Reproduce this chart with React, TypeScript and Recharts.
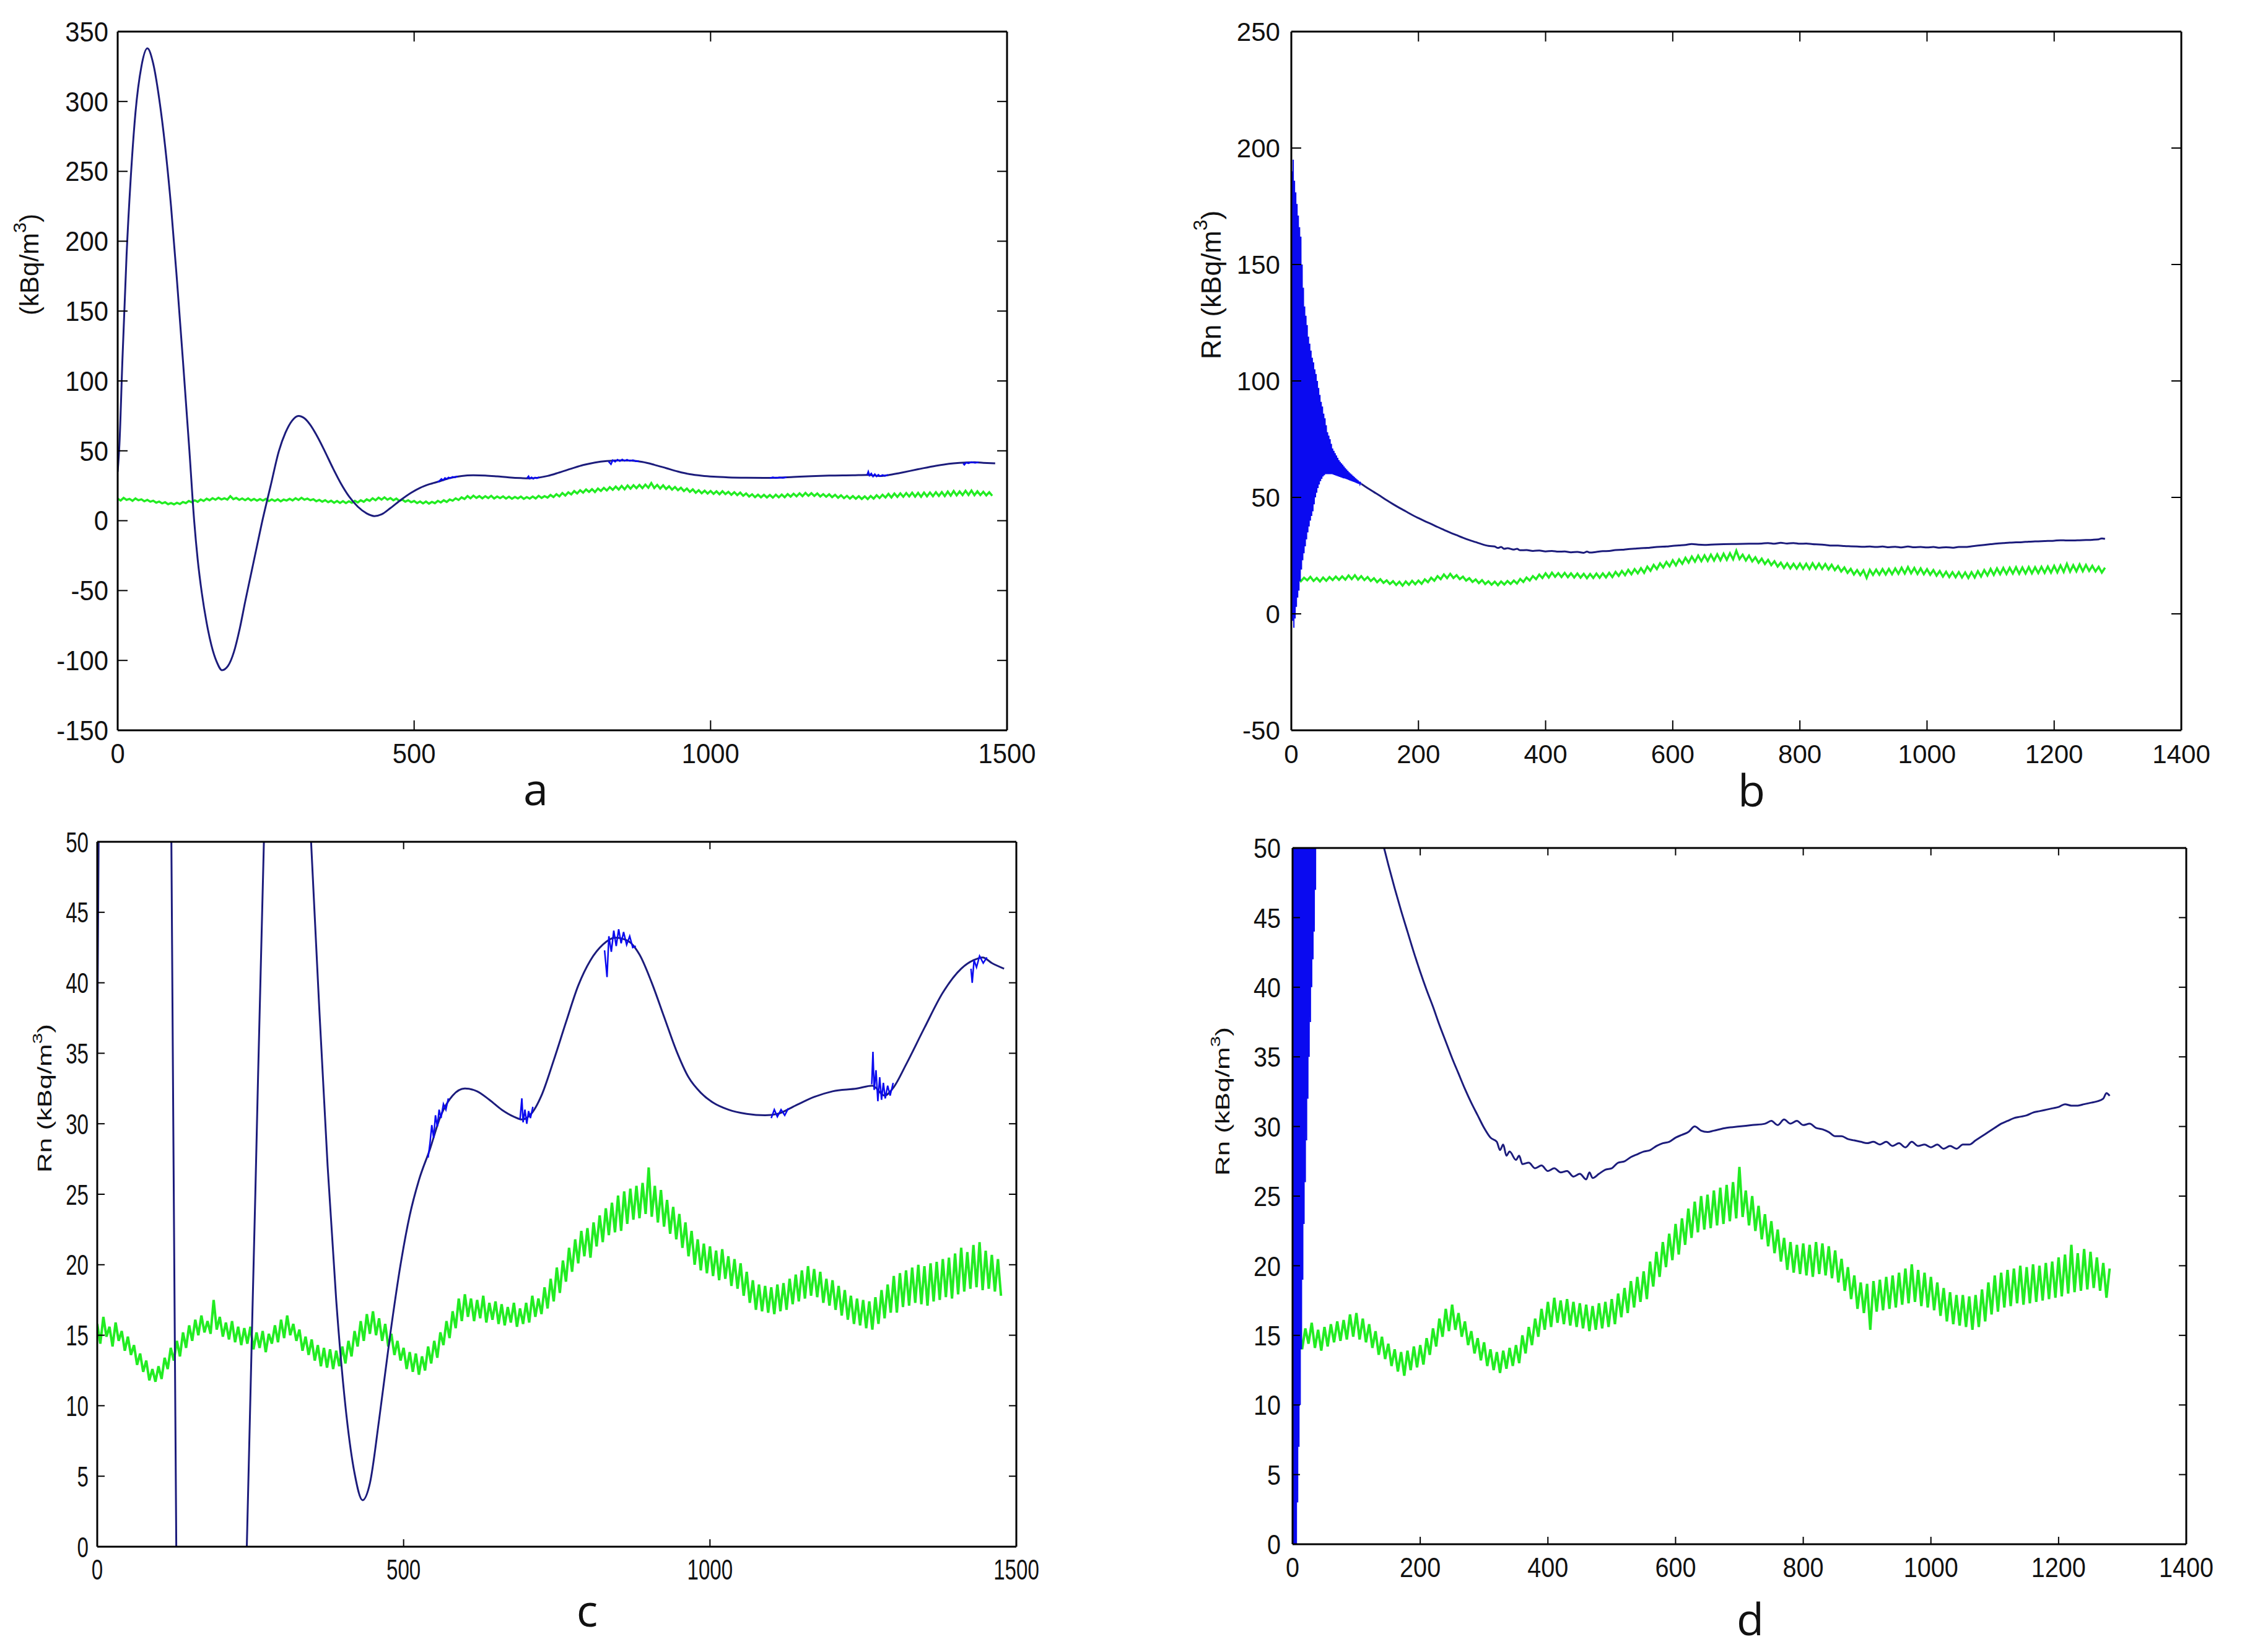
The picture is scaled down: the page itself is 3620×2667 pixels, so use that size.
import React from 'react';
import { LineChart, Line, XAxis, YAxis } from 'recharts';

// ---------------- DATA ----------------
// Panel a / c : blue series (smooth part) [time, Rn]
const BLUE_A: [number, number][] = [
  [0, 35], [3, 55], [8, 115], [15, 190], [22, 245], [30, 292], [40, 325], [50, 338], [60, 327], [70, 302],
  [80, 268], [90, 225], [100, 172], [110, 115], [121, 50], [129, 0], [135, -28], [142, -52], [150, -73], [158, -89],
  [167, -101], [176, -107], [186, -104], [196, -94], [206, -77], [215, -58], [224, -40], [234, -20], [243, -2], [258, 25],
  [272, 50], [283, 63], [294, 71.5], [305, 75], [315, 73.3], [325, 68.5], [337, 60], [349, 50], [362, 38.5], [376, 27],
  [390, 17.5], [405, 10], [420, 5.2], [433, 3.3], [445, 4.5], [460, 9], [478, 15], [495, 20], [510, 23.5], [525, 26],
  [543, 28.2], [560, 30.5],
  [580, 32.0], [600, 32.5], [620, 32.3], [640, 31.7], [660, 31.0], [680, 30.5], [693, 30.3], [710, 30.8], [725, 32], [745, 34.5],
  [765, 37.2], [785, 39.8], [805, 41.6], [825, 42.7], [845, 43.2], [865, 43.0], [885, 42.0], [905, 40.0], [925, 37.6], [945, 35.2],
  [965, 33.3], [985, 32.2], [1005, 31.5], [1030, 31.0], [1060, 30.7], [1090, 30.6], [1110, 30.7], [1140, 31.3], [1170, 31.9], [1200, 32.3],
  [1240, 32.5], [1265, 32.7], [1285, 32.0], [1300, 32.6], [1320, 34.2], [1350, 36.8], [1380, 39.3], [1410, 41.0], [1430, 41.6], [1445, 41.8],
  [1460, 41.4], [1480, 41.0],
];
// Panel a / c : blue jitter bursts (null separates bursts)
const BLUE_A_JITTER: [number, number | null][] = [
  [540, 27.6], [543, 28.6], [546, 29.9], [549, 29.0], [552, 30.6], [555, 29.8], [558, 31.0], [561, 30.4], [565, 31.4], [569, 31.0], [573, 31.8], [574, null],
  [690, 30.3], [693, 31.8], [695, 30.1], [698, 31.0], [701, 30.0], [704, 30.9], [707, 30.4], [711, 31.2], [712, null],
  [828, 42.3], [832, 40.4], [835, 43.3], [839, 42.2], [843, 43.7], [847, 42.6], [851, 43.8], [855, 42.8], [859, 43.6], [864, 42.7], [869, 43.3], [874, 42.5], [879, 42.6], [880, null],
  [1100, 30.4], [1105, 31.0], [1110, 30.5], [1116, 31.0], [1122, 30.6], [1128, 31.1], [1129, null],
  [1264, 32.8], [1266, 35.1], [1268, 32.4], [1271, 33.8], [1274, 31.6], [1277, 33.3], [1280, 31.7], [1283, 32.9], [1286, 31.8], [1290, 32.7], [1294, 32.0], [1299, 32.9], [1300, null],
  [1426, 41.0], [1428, 40.0], [1431, 41.6], [1435, 41.1], [1440, 41.9], [1446, 41.4], [1452, 41.8],
];
// Panel a / c : green series, one value every 5 time units from 0
const GREEN_A_STEP = 5;
const GREEN_A: number[] = [
  15.8, 14.4, 16.3, 14.9, 15.6, 14.2, 15.9, 14.6, 15.3, 13.9,
  14.9, 13.6, 14.3, 12.9, 13.7, 12.4, 13.2, 11.8, 12.6, 11.7,
  12.8, 11.9, 13.4, 12.6, 14.1, 13.2, 14.6, 13.5, 15.2, 14.1,
  15.7, 14.6, 16.1, 15.0, 16.4, 15.2, 16.0, 15.1, 17.5, 15.4,
  16.3, 14.9, 15.9, 14.7, 16.0, 14.5, 15.6, 14.3, 15.5, 14.4,
  15.6, 14.0, 15.2, 14.1, 15.3, 13.8, 15.1, 14.4, 15.7, 14.5,
  16.1, 14.8, 16.4, 15.0, 15.8, 14.6, 15.4, 13.9, 14.9, 13.6,
  14.7, 13.2, 14.3, 12.8, 14.1, 12.7, 14.0, 12.6, 13.9, 12.8,
  14.2, 13.0, 14.6, 13.5, 15.3, 14.2, 16.0, 14.6, 16.5, 15.1,
  16.7, 15.0, 16.2, 14.6, 15.8, 14.2, 15.1, 13.6, 14.6, 13.2,
  14.1, 12.6, 13.8, 12.4, 13.7, 12.2, 13.5, 12.5, 14.2, 13.0,
  14.6, 13.4, 15.2, 14.3, 16.0, 14.8, 16.7, 15.5, 17.6, 16.0,
  17.9, 16.3, 17.6, 16.0, 17.5, 16.2, 17.8, 15.9, 17.3, 16.1,
  17.4, 15.8, 17.2, 15.7, 17.0, 15.9, 17.3, 15.6, 16.9, 15.8,
  17.3, 15.9, 17.8, 16.3, 17.6, 16.5, 18.4, 16.9, 19.0, 17.4,
  19.8, 18.0, 20.3, 18.8, 21.2, 19.5, 21.8, 20.1, 22.4, 20.6,
  22.6, 20.5, 23.0, 21.3, 23.5, 21.6, 24.0, 22.1, 24.4, 22.3,
  24.9, 22.4, 25.2, 22.9, 25.4, 23.2, 25.6, 23.3, 25.8, 23.6,
  26.9, 23.4, 25.6, 23.0, 25.3, 22.7, 24.6, 22.2, 24.1, 21.8,
  23.6, 21.2, 23.0, 20.6, 22.4, 20.0, 21.8, 19.6, 21.5, 19.4,
  21.3, 19.2, 21.0, 18.9, 21.1, 19.0, 20.6, 18.5, 20.4, 18.3,
  20.1, 17.8, 19.5, 17.3, 18.9, 16.8, 18.6, 16.7, 18.5, 16.6,
  18.4, 16.5, 18.6, 16.7, 18.7, 16.8, 19.0, 17.2, 19.3, 17.4,
  19.6, 17.6, 19.9, 17.8, 19.7, 17.7, 19.5, 17.3, 19.0, 17.1,
  18.9, 16.8, 18.5, 16.4, 18.2, 16.1, 17.8, 15.8, 17.6, 15.7,
  17.5, 15.5, 17.4, 15.4, 17.7, 15.8, 18.2, 16.2, 18.6, 16.6,
  19.2, 16.6, 19.4, 17.0, 19.6, 17.1, 19.8, 17.3, 20.0, 17.2,
  19.9, 17.1, 20.1, 17.4, 20.2, 17.5, 20.4, 17.7, 20.5, 17.6,
  20.8, 17.9, 21.2, 18.1, 20.9, 18.3, 21.4, 18.4, 21.6, 18.2,
  21.0, 18.3, 20.7, 18.1, 20.4, 17.8,
];

// Panel b / d : blue start-up burst, one value per time unit from 0
const BLUE_B_BURST: number[] = [
  5, 190, -3, 195, -6, 186, -2, 181, 3, 176,
  7, 171, 10, 166, 14, 162, 19, 150, 23, 140,
  26, 132, 29, 128, 32, 124, 35, 119, 37.5, 116,
  40, 113, 42, 110, 44, 108, 47, 105, 50, 103,
  52, 100, 54, 97, 55.5, 94, 57, 91, 58, 89,
  59, 86, 59.5, 84, 60, 81, 60, 78, 60, 76.5,
  60, 75, 60, 73, 60, 71, 59.8, 70, 59.6, 69,
  59.4, 68, 59.2, 67, 59, 66, 58.8, 65.3, 58.6, 64.6,
  58.4, 64, 58.2, 63.3, 58.1, 62.6, 57.9, 62, 57.7, 61.4,
  57.5, 60.8, 57.3, 60.3, 57.1, 59.8, 56.9, 59.3, 56.7, 58.8,
  56.5, 58.3, 56.2, 57.8, 56, 57.3, 55.8, 56.8, 55.6, 56.3,
  55.8,
];
// Panel b / d : blue after the burst [time, Rn]
const BLUE_B: [number, number][] = [
  [110, 55.8], [120, 54.0], [130, 52.3], [140, 50.6], [150, 48.8], [160, 47.1], [170, 45.5], [180, 44.0], [190, 42.5], [200, 41.1],
  [210, 39.8], [220, 38.6], [230, 37.3], [240, 36.1], [250, 34.9], [260, 33.8], [270, 32.7], [280, 31.7], [290, 30.8], [300, 29.9],
  [310, 29.2], [320, 28.9], [325, 28.3], [330, 28.7], [335, 27.9], [340, 28.2], [350, 27.6], [355, 27.9], [360, 27.3], [370, 27.4],
  [380, 27.0], [390, 27.2], [400, 26.8], [410, 27.0], [420, 26.7], [430, 26.8], [440, 26.4], [450, 26.6], [460, 26.2], [465, 26.7],
  [470, 26.3], [480, 26.6], [490, 26.9], [500, 27.0], [510, 27.4], [520, 27.5], [530, 27.8], [540, 28.0], [550, 28.2], [560, 28.3],
  [570, 28.6], [580, 28.8], [590, 28.9], [600, 29.2], [610, 29.4], [620, 29.6], [630, 30.0], [640, 29.7], [650, 29.6], [660, 29.7],
  [680, 29.9], [700, 30.0], [720, 30.1], [740, 30.2], [750, 30.4], [760, 30.1], [770, 30.5], [780, 30.2], [790, 30.4], [800, 30.1],
  [810, 30.2], [820, 29.9], [830, 29.8], [840, 29.6], [850, 29.3], [860, 29.3], [870, 29.1], [880, 29.0], [890, 28.9], [900, 28.8],
  [910, 28.9], [920, 28.7], [930, 28.9], [940, 28.6], [950, 28.8], [960, 28.5], [970, 28.9], [980, 28.6], [990, 28.7], [1000, 28.5],
  [1010, 28.7], [1020, 28.4], [1030, 28.6], [1040, 28.4], [1050, 28.7], [1060, 28.7], [1070, 29.0], [1080, 29.3], [1090, 29.6], [1100, 29.9],
  [1110, 30.2], [1120, 30.4], [1130, 30.6], [1140, 30.7], [1150, 30.8], [1160, 31.0], [1170, 31.1], [1180, 31.2], [1190, 31.3], [1200, 31.4],
  [1210, 31.6], [1220, 31.5], [1230, 31.5], [1240, 31.6], [1250, 31.7], [1260, 31.8], [1270, 32.0], [1275, 32.4], [1280, 32.2],
];
// Panel b / d : green series, one value every 5 time units from 0
const GREEN_B_STEP = 5;
const GREEN_B: number[] = [
  16.0, 14.3, 15.7, 14.0, 15.5, 14.4, 15.9, 14.1, 15.4, 13.9,
  15.6, 14.2, 15.8, 14.5, 16.0, 14.6, 16.1, 14.7, 16.5, 14.9,
  16.6, 14.7, 16.2, 14.5, 15.8, 14.1, 15.3, 13.6, 14.9, 13.3,
  14.4, 12.8, 14.0, 12.4, 13.8, 12.1, 13.9, 12.5, 14.2, 12.7,
  14.3, 12.9, 14.8, 13.6, 15.5, 14.2, 16.2, 14.9, 16.9, 15.3,
  17.2, 15.4, 16.6, 14.9, 16.0, 14.3, 15.3, 13.7, 14.8, 13.2,
  14.5, 12.8, 14.0, 12.5, 13.8, 12.3, 13.9, 12.6, 14.1, 12.8,
  14.3, 13.0, 15.0, 13.7, 15.6, 14.3, 16.2, 14.9, 16.9, 15.4,
  17.4, 15.6, 17.7, 15.9, 17.5, 15.8, 17.6, 15.7, 17.4, 15.6,
  17.3, 15.5, 17.2, 15.3, 17.1, 15.4, 17.3, 15.5, 17.4, 15.6,
  17.6, 15.8, 18.0, 16.3, 18.4, 16.6, 18.9, 17.0, 19.2, 17.4,
  19.6, 17.6, 20.3, 18.5, 21.0, 19.2, 21.7, 19.9, 22.3, 20.4,
  23.0, 20.8, 23.4, 21.5, 24.1, 22.0, 24.6, 22.4, 25.0, 22.6,
  25.1, 22.7, 25.4, 22.9, 25.6, 23.0, 25.8, 23.2, 26.0, 23.4,
  27.1, 23.5, 25.4, 22.9, 25.0, 22.5, 24.3, 21.9, 23.7, 21.4,
  23.2, 20.9, 22.6, 20.3, 22.0, 19.7, 21.7, 19.5, 21.5, 19.4,
  21.6, 19.3, 21.5, 19.2, 21.7, 19.4, 21.6, 19.3, 21.4, 19.1,
  21.1, 18.8, 20.5, 18.2, 19.9, 17.6, 19.3, 16.9, 18.8, 16.6,
  18.7, 15.4, 18.9, 16.7, 19.0, 16.8, 19.2, 16.9, 19.3, 17.0,
  19.5, 17.2, 19.8, 17.3, 20.1, 17.4, 19.7, 17.1, 19.5, 17.0,
  19.2, 16.8, 18.8, 16.4, 18.4, 16.0, 18.1, 15.8, 17.9, 15.7,
  17.9, 15.6, 17.8, 15.4, 17.9, 15.6, 18.3, 16.0, 18.8, 16.5,
  19.3, 16.7, 19.5, 17.0, 19.7, 17.1, 19.8, 17.3, 20.0, 17.2,
  19.9, 17.3, 20.1, 17.4, 20.0, 17.5, 20.2, 17.6, 20.3, 17.7,
  20.6, 17.8, 20.8, 18.0, 21.5, 18.1, 20.9, 18.2, 21.2, 18.3,
  21.0, 18.4, 20.6, 18.2, 20.2, 17.7, 19.8,
];

// Tick labels
const X_TICKS_A = [0, 500, 1000, 1500];
const Y_TICKS_A = [-150, -100, -50, 0, 50, 100, 150, 200, 250, 300, 350];
const X_TICKS_B = [0, 200, 400, 600, 800, 1000, 1200, 1400];
const Y_TICKS_B = [-50, 0, 50, 100, 150, 200, 250];
const Y_TICKS_CD = [0, 5, 10, 15, 20, 25, 30, 35, 40, 45, 50];

// ---------------- BUILD ----------------
const pairs = (arr: [number, number | null][]) => arr.map(([x, y]) => ({ x, y }));
const stepped = (arr: number[], step: number) => arr.map((y, i) => ({ x: i * step, y }));

const blueA = pairs(BLUE_A);
const blueAJ = pairs(BLUE_A_JITTER);
const greenA = stepped(GREEN_A, GREEN_A_STEP);
const blueBBurst = stepped(BLUE_B_BURST, 1);
const blueB = pairs(BLUE_B);
const greenB = stepped(GREEN_B, GREEN_B_STEP);

const TICK_FONT = "'Liberation Sans', Arial, Helvetica, sans-serif";
const LETTER_FONT = "'Open Sans', 'Noto Sans', sans-serif";
const NAVY = '#1c1c7c';
const BRIGHT = '#0a0af0';
const GREEN = '#22ec22';

const charW = (s: string) => {
  let w = 0;
  for (const ch of s) w += ch === '-' ? 0.333 : 0.556;
  return w;
};

type PanelCfg = {
  box: [number, number, number, number];
  plot: [number, number, number, number];
  xDomain: [number, number];
  yDomain: [number, number];
  xTicks: number[];
  yTicks: number[];
  fs: number;
  sx: number;
  ygap: number;
  tlen: number;
  gw: number;
};

const makeBottomTick = (c: PanelCfg) => (props: any) => {
  const { x, y, payload } = props;
  const s = String(payload.value);
  return (
    <g>
      <line x1={x} x2={x} y1={y} y2={y - c.tlen} stroke="#000" strokeWidth={2} />
      <text x={x} y={y + 53} textAnchor="middle" fontSize={c.fs} fontFamily={TICK_FONT} fill="#111"
        textLength={charW(s) * c.fs * c.sx} lengthAdjust="spacingAndGlyphs">{s}</text>
    </g>
  );
};
const makeTopTick = (c: PanelCfg) => (props: any) => {
  const { x, y } = props;
  return <line x1={x} x2={x} y1={y} y2={y + c.tlen} stroke="#000" strokeWidth={2} />;
};
const makeLeftTick = (c: PanelCfg) => (props: any) => {
  const { x, y, payload } = props;
  const s = String(payload.value);
  return (
    <g>
      <line x1={x} x2={x + c.tlen} y1={y} y2={y} stroke="#000" strokeWidth={2} />
      <text x={x - c.ygap} y={y + c.fs * 0.36} textAnchor="end" fontSize={c.fs} fontFamily={TICK_FONT} fill="#111"
        textLength={charW(s) * c.fs * c.sx} lengthAdjust="spacingAndGlyphs">{s}</text>
    </g>
  );
};
const makeRightTick = (c: PanelCfg) => (props: any) => {
  const { x, y } = props;
  return <line x1={x} x2={x - c.tlen} y1={y} y2={y} stroke="#000" strokeWidth={2} />;
};

const AXIS = { stroke: '#000', strokeWidth: 3 };

const PANEL_A: PanelCfg = {
  box: [0, 0, 1810, 1333], plot: [190, 51, 1626, 1179], xDomain: [0, 1500], yDomain: [-150, 350],
  xTicks: X_TICKS_A, yTicks: Y_TICKS_A, fs: 44, sx: 0.95, ygap: 15, tlen: 16, gw: 3.5,
};
const PANEL_B: PanelCfg = {
  box: [1810, 0, 1810, 1333], plot: [2085, 51, 3522, 1179], xDomain: [0, 1400], yDomain: [-50, 250],
  xTicks: X_TICKS_B, yTicks: Y_TICKS_B, fs: 43, sx: 0.98, ygap: 18, tlen: 16, gw: 3.5,
};
const PANEL_C: PanelCfg = {
  box: [0, 1333, 1810, 1334], plot: [157, 1359, 1641, 2497], xDomain: [0, 1500], yDomain: [0, 50],
  xTicks: X_TICKS_A, yTicks: Y_TICKS_CD, fs: 46, sx: 0.72, ygap: 14, tlen: 12, gw: 4,
};
const PANEL_D: PanelCfg = {
  box: [1810, 1333, 1810, 1334], plot: [2087, 1369, 3530, 2493], xDomain: [0, 1400], yDomain: [0, 50],
  xTicks: X_TICKS_B, yTicks: Y_TICKS_CD, fs: 45, sx: 0.88, ygap: 19, tlen: 12, gw: 4,
};

function Panel({ c, lines }: { c: PanelCfg; lines: React.ReactNode[] }) {
  const [bl, bt, bw, bh] = c.box;
  const [x0, y0, x1, y1] = c.plot;
  // every axis band is 1px wide, so the margins leave that pixel out
  const margin = { left: x0 - bl - 1, top: y0 - bt - 1, right: bl + bw - x1 - 1, bottom: bt + bh - y1 - 1 };
  return (
    <div style={{ position: 'absolute', left: bl, top: bt, width: bw, height: bh }}>
      <LineChart width={bw} height={bh} margin={margin}>
        <XAxis xAxisId="b" type="number" dataKey="x" domain={c.xDomain} ticks={c.xTicks} interval={0}
          height={1} tickSize={0} tickMargin={0} axisLine={AXIS} tickLine={false} tick={makeBottomTick(c)} allowDataOverflow />
        <XAxis xAxisId="t" orientation="top" type="number" dataKey="x" domain={c.xDomain} ticks={c.xTicks} interval={0}
          height={1} tickSize={0} tickMargin={0} axisLine={AXIS} tickLine={false} tick={makeTopTick(c)} allowDataOverflow />
        <YAxis yAxisId="l" type="number" domain={c.yDomain} ticks={c.yTicks} interval={0}
          width={1} tickSize={0} tickMargin={0} axisLine={AXIS} tickLine={false} tick={makeLeftTick(c)} allowDataOverflow />
        <YAxis yAxisId="r" orientation="right" type="number" domain={c.yDomain} ticks={c.yTicks} interval={0}
          width={1} tickSize={0} tickMargin={0} axisLine={AXIS} tickLine={false} tick={makeRightTick(c)} allowDataOverflow />
        {lines}
      </LineChart>
    </div>
  );
}

const linesA = (k: string, gw: number) => [
  <Line key={k + 'g'} xAxisId="b" yAxisId="l" data={greenA} dataKey="y" type="linear" stroke={GREEN} strokeWidth={gw}
    dot={false} activeDot={false} isAnimationActive={false} />,
  <Line key={k + 'b'} xAxisId="b" yAxisId="l" data={blueA} dataKey="y" type="monotone" stroke={NAVY} strokeWidth={3}
    dot={false} activeDot={false} isAnimationActive={false} />,
  <Line key={k + 'j'} xAxisId="b" yAxisId="l" data={blueAJ} dataKey="y" type="linear" stroke={BRIGHT} strokeWidth={2.5}
    dot={false} activeDot={false} isAnimationActive={false} connectNulls={false} />,
];
const linesB = (k: string, gw: number) => [
  <Line key={k + 'g'} xAxisId="b" yAxisId="l" data={greenB} dataKey="y" type="linear" stroke={GREEN} strokeWidth={gw}
    dot={false} activeDot={false} isAnimationActive={false} />,
  <Line key={k + 'u'} xAxisId="b" yAxisId="l" data={blueBBurst} dataKey="y" type="linear" stroke={BRIGHT} strokeWidth={2}
    dot={false} activeDot={false} isAnimationActive={false} />,
  <Line key={k + 'b'} xAxisId="b" yAxisId="l" data={blueB} dataKey="y" type="monotone" stroke={NAVY} strokeWidth={3}
    dot={false} activeDot={false} isAnimationActive={false} />,
];

function YLabel({ cx, cy, fs, prefix, squeeze }: { cx: number; cy: number; fs: number; prefix: string; squeeze: number }) {
  return (
    <text transform={`translate(${cx},${cy}) rotate(-90) scale(1,${squeeze})`} textAnchor="middle" dominantBaseline="central"
      fontSize={fs} fontFamily={TICK_FONT} fill="#111">
      {prefix}(kBq/m<tspan dy={-fs * 0.38} fontSize={fs * 0.72}>3</tspan><tspan dy={fs * 0.38}>)</tspan>
    </text>
  );
}

export default function App() {
  return (
    <div style={{ position: 'absolute', left: 0, top: 0, width: 3620, height: 2667, background: '#fff', overflow: 'hidden' }}>
      <Panel c={PANEL_A} lines={linesA('a', PANEL_A.gw)} />
      <Panel c={PANEL_B} lines={linesB('b', PANEL_B.gw)} />
      <Panel c={PANEL_C} lines={linesA('c', PANEL_C.gw)} />
      <Panel c={PANEL_D} lines={linesB('d', PANEL_D.gw)} />
      <svg width={3620} height={2667} style={{ position: 'absolute', left: 0, top: 0, pointerEvents: 'none' }}>
        <YLabel cx={47} cy={427} fs={42} prefix="" squeeze={1} />
        <YLabel cx={1955} cy={460} fs={44} prefix="Rn " squeeze={1} />
        <YLabel cx={72} cy={1773} fs={44} prefix="Rn " squeeze={0.7} />
        <YLabel cx={1974} cy={1778} fs={44} prefix="Rn " squeeze={0.7} />
        <text x={865} y={1300} textAnchor="middle" fontSize={72} fontFamily={LETTER_FONT} fill="#111">a</text>
        <text x={2828} y={1302} textAnchor="middle" fontSize={72} fontFamily={LETTER_FONT} fill="#111">b</text>
        <text x={948} y={2626} textAnchor="middle" fontSize={72} fontFamily={LETTER_FONT} fill="#111">c</text>
        <text x={2826} y={2640} textAnchor="middle" fontSize={72} fontFamily={LETTER_FONT} fill="#111">d</text>
      </svg>
    </div>
  );
}
